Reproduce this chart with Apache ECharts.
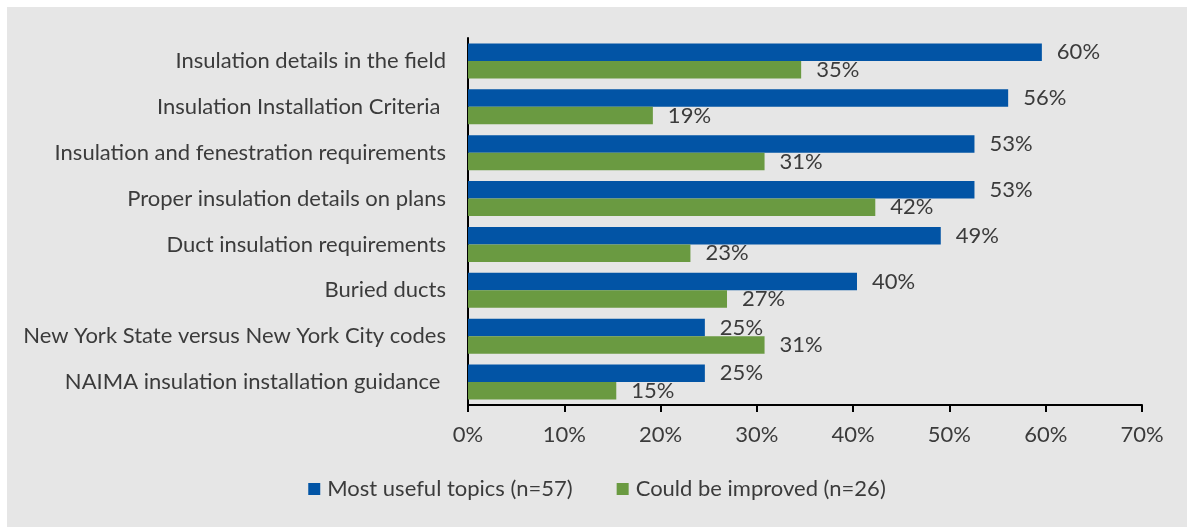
<!DOCTYPE html>
<html>
<head>
<meta charset="utf-8">
<script src="https://cdn.jsdelivr.net/npm/echarts@6/dist/echarts.min.js"></script>
<style>
  html, body { margin: 0; padding: 0; background: #ffffff; }
  #chart { position: absolute; left: 7px; top: 7px; width: 1180px; height: 520px; background: #e6e6e6; }
</style>
</head>
<body>
<div id="chart"></div>
<script>
// Topics, top to bottom
const categories = [
  'Insulation details in the field',
  'Insulation Installation Criteria ',
  'Insulation and fenestration requirements',
  'Proper insulation details on plans',
  'Duct insulation requirements',
  'Buried ducts',
  'New York State versus New York City codes',
  'NAIMA insulation installation guidance '
];
const seriesNames = ['Most useful topics (n=57)', 'Could be improved (n=26)'];
// Share of respondents, percent
const mostUseful = [59.6, 56.1, 52.6, 52.6, 49.1, 40.4, 24.6, 24.6];
const couldImprove = [34.6, 19.2, 30.8, 42.3, 23.1, 26.9, 30.8, 15.4];
const axisMax = 70;
const axisStep = 10;

const FONT = 'Lato';
const SIZE = 22;
const TEXT = '#3b3b3b';
const BLUE = '#0254a5';
const GREEN = '#6a9a41';

const chart = echarts.init(document.getElementById('chart'), null, { renderer: 'canvas' });

const pct = p => Math.round(p.value) + '%';

chart.setOption({
  backgroundColor: '#e6e6e6',
  animation: false,
  textStyle: { fontFamily: FONT, color: TEXT },
  grid: { left: 461, right: 45, top: 31, bottom: 122, containLabel: false },
  legend: {
    bottom: 22,
    left: 'center',
    itemWidth: 12,
    itemHeight: 12,
    itemGap: 44,
    icon: 'rect',
    textStyle: { fontFamily: FONT, fontSize: SIZE, color: TEXT, padding: [0, 0, 0, 2] },
    data: seriesNames
  },
  xAxis: {
    type: 'value',
    min: 0,
    max: axisMax,
    interval: axisStep,
    axisLine: { show: true, lineStyle: { color: '#000', width: 2 } },
    axisTick: { show: true, inside: false, length: 7, lineStyle: { color: '#000', width: 2 } },
    axisLabel: { formatter: v => v + '%', fontFamily: FONT, fontSize: SIZE, color: TEXT, margin: 19 },
    splitLine: { show: false }
  },
  yAxis: {
    type: 'category',
    inverse: true,
    data: categories,
    axisLine: { show: true, lineStyle: { color: '#000', width: 2 } },
    axisTick: { show: false },
    axisLabel: { fontFamily: FONT, fontSize: SIZE, color: TEXT, margin: 22, padding: [0, 0, 4, 0] }
  },
  series: [
    {
      name: seriesNames[0],
      type: 'bar',
      data: mostUseful,
      barWidth: 17.5,
      barGap: '0%',
      itemStyle: { color: BLUE },
      label: { show: true, position: 'right', distance: 15, formatter: pct, fontFamily: FONT, fontSize: SIZE, color: TEXT }
    },
    {
      name: seriesNames[1],
      type: 'bar',
      data: couldImprove,
      barWidth: 17.5,
      barGap: '0%',
      itemStyle: { color: GREEN },
      label: { show: true, position: 'right', distance: 15, formatter: pct, fontFamily: FONT, fontSize: SIZE, color: TEXT }
    }
  ]
});
</script>
</body>
</html>
